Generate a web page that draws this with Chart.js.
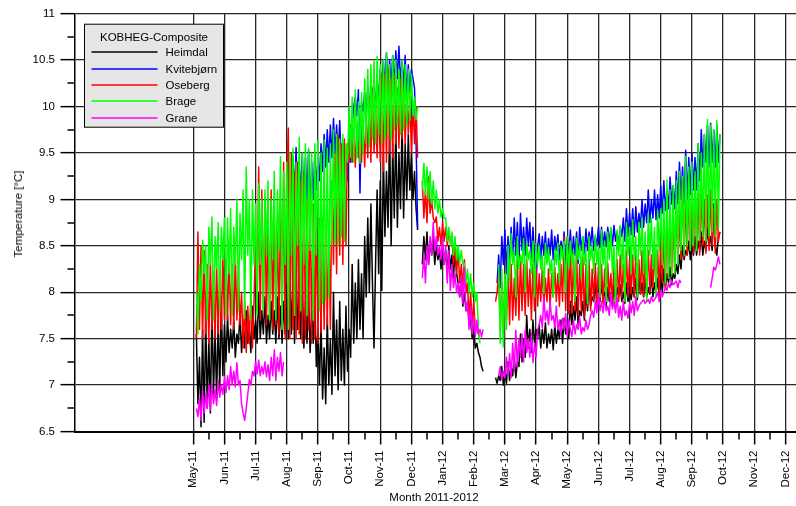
<!DOCTYPE html>
<html>
<head>
<meta charset="utf-8">
<script src="https://cdn.jsdelivr.net/npm/chart.js@4.4.1/dist/chart.umd.min.js"></script>
<style>
  html, body { margin: 0; padding: 0; background: #fff; overflow: hidden; }
  #wrap { position: relative; width: 796px; height: 506px; font-family: "Liberation Sans", Arial, sans-serif; color: #000; }
  #wrap canvas { position: absolute; left: 0; top: 0; }
  .axis-title { position: absolute; font-size: 11.5px; line-height: 14px; white-space: nowrap; }
  #ytitle { left: 18px; top: 214px; transform: translate(-50%, -50%) rotate(-90deg); }
  #xtitle { left: 434px; top: 497px; transform: translate(-50%, -50%); }
</style>
</head>
<body>
<div id="wrap">
  <canvas id="chart" width="796" height="506"></canvas>
  <div id="ytitle" class="axis-title">Temperature [°C]</div>
  <div id="xtitle" class="axis-title">Month 2011-2012</div>
</div>
<script>
// Month axis: 0 = May-11, one unit per month
const monthLabels = ['May-11','Jun-11','Jul-11','Aug-11','Sep-11','Oct-11','Nov-11','Dec-11','Jan-12','Feb-12',
  'Mar-12','Apr-12','May-12','Jun-12','Jul-12','Aug-12','Sep-12','Oct-12','Nov-12','Dec-12'];
const tempTicks = [6.5, 7, 7.5, 8, 8.5, 9, 9.5, 10, 10.5, 11];
const legendTitle = 'KOBHEG-Composite';

// Readings every 0.05 month (one row = one month); each series lists its first reading month
const STEP = 0.05;

const heimdalStart = 0.1;
const heimdal = [
  7.55,6.8,7.3,6.55,7.6,6.6,7.75,6.75,7.5,6.7,7.85,6.9,7.6,6.85,7.7,6.95,7.9,7.1,7.65,7.25,
  7.75,7.35,7.6,7.4,7.7,7.3,7.55,7.45,7.78,7.35,7.65,7.4,7.8,7.45,7.6,7.35,7.85,7.5,7.7,7.45,
  8.0,7.5,7.8,7.55,7.95,7.45,7.75,7.5,7.9,7.55,7.8,7.45,7.95,7.5,7.85,7.45,7.9,7.55,8.1,7.5,
  8.3,7.55,8.1,7.45,8.25,7.6,8.0,7.5,8.1,7.4,7.9,7.45,8.0,7.35,7.8,7.45,7.95,7.2,7.6,7.0,
  7.7,6.85,7.4,6.8,7.75,7.0,7.5,6.9,8.0,7.1,7.7,6.95,7.9,7.05,7.6,7.0,7.85,7.15,7.6,7.3,
  8.3,7.45,8.1,7.5,8.35,7.6,8.2,7.5,8.6,7.95,8.8,8.0,8.95,8.1,7.4,8.3,9.1,8.2,9.2,8.02,
  9.5,8.6,9.3,8.7,9.75,8.5,9.6,8.8,9.8,8.7,9.5,8.9,9.85,8.8,9.6,9.0,9.7,9.1,9.5,9.0,
  9.3,8.9,8.67,null,null,8.3,8.6,8.35,8.65,8.3,8.55,8.4,8.6,8.3,8.5,8.35,8.45,8.25,8.5,8.3,
  8.45,8.2,8.5,8.25,8.4,8.15,8.45,8.2,8.1,7.95,8.15,7.85,8.0,7.8,7.9,7.7,7.7,7.5,7.6,7.4,
  7.45,7.35,7.3,7.2,7.15,null,null,null,null,null,null,null,7.08,7.02,7.1,7.05,7.2,7.0,7.15,7.02,
  7.25,7.05,7.2,7.1,7.3,7.08,7.25,7.2,7.55,7.25,7.5,7.3,7.75,7.4,7.6,7.35,7.7,7.45,7.6,7.5,
  7.65,7.4,7.6,7.45,7.67,7.4,7.55,7.45,7.6,7.38,7.65,7.45,7.6,7.5,7.7,7.45,7.72,7.55,7.65,7.5,
  7.9,7.65,7.85,7.7,7.95,7.65,7.8,7.75,7.9,7.7,8.0,7.8,8.1,7.85,7.95,7.9,8.1,7.85,8.05,7.9,
  8.12,7.9,8.0,7.85,8.05,7.9,7.95,7.85,8.1,7.9,8.05,7.95,8.08,7.9,8.0,7.88,8.1,7.9,8.05,7.92,
  8.05,7.95,8.15,7.92,8.2,7.98,8.1,7.95,8.15,7.95,8.05,7.98,8.2,7.95,8.1,8.0,8.15,7.95,8.2,8.0,
  8.25,8.05,8.2,8.1,8.27,8.08,8.2,8.15,8.3,8.2,8.4,8.25,8.5,8.35,8.45,8.4,8.55,8.35,8.5,8.4,
  8.6,8.4,8.55,8.45,8.65,8.4,8.55,8.45,8.7,8.5,8.6,8.45,8.95,8.5,8.4,8.6,8.65
];

const kvitebjornStart = 3.1;
const kvitebjorn = [
  9.3,8.9,9.45,9.0,9.56,8.95,9.4,9.05,9.5,8.9,9.45,9.0,9.53,8.85,9.4,9.0,9.5,9.1,9.45,9.2,
  9.6,9.3,9.7,9.35,9.75,9.4,9.8,9.45,9.87,9.5,9.8,9.45,9.85,9.4,9.6,9.3,9.55,9.2,9.65,9.4,
  9.8,10.0,10.1,9.9,10.18,9.07,10.05,9.95,10.15,9.9,10.2,9.95,10.25,10.0,10.29,9.95,10.3,10.05,10.4,10.2,
  10.5,10.2,10.58,10.15,10.5,10.25,10.55,10.2,10.6,10.3,10.65,10.25,10.5,10.2,10.55,10.1,10.45,10.15,10.4,10.3,
  10.2,9.6,8.7,null,null,null,null,null,null,null,null,null,null,null,null,null,null,null,null,null,
  null,null,null,null,null,null,null,null,null,null,null,null,null,null,null,null,null,null,null,null,
  null,null,null,null,null,null,null,null,null,null,null,null,null,8.1,8.4,8.05,8.6,8.3,8.67,8.2,
  8.6,8.3,8.7,8.35,8.8,8.4,8.75,8.3,8.85,8.45,8.7,8.4,8.8,8.5,8.75,8.35,8.7,8.4,8.05,8.5,
  8.63,8.35,8.6,8.4,8.65,8.34,8.58,8.4,8.67,8.35,8.6,8.45,8.62,8.35,8.55,8.4,8.65,8.3,8.6,8.4,
  8.67,8.35,8.6,8.4,8.65,8.31,8.7,8.45,8.6,8.4,8.68,8.45,8.65,8.5,8.7,8.45,8.6,8.5,8.7,8.48,
  8.7,8.5,8.65,8.49,8.7,8.55,8.68,8.5,8.72,8.55,8.65,8.5,8.7,8.6,8.8,8.55,8.9,8.6,8.85,8.62,
  8.9,8.6,8.92,8.65,8.85,8.7,9.0,8.7,8.95,8.75,9.1,8.75,9.0,8.8,9.1,8.78,9.05,8.8,9.15,8.85,
  9.2,8.88,9.1,8.9,9.24,8.95,9.15,8.9,9.3,8.95,9.4,9.0,9.35,8.95,9.53,9.0,9.45,9.05,9.5,9.1,
  9.45,9.1,9.6,9.2,9.75,9.35,9.7,9.4,9.8,9.35,9.82,9.4,9.75,9.35,9.8,9.4,9.7
];

const osebergStart = 0.1;
const oseberg = [
  7.5,8.65,7.6,8.5,7.5,8.45,7.55,8.3,7.45,8.35,7.6,8.2,7.5,8.3,7.55,8.25,7.6,8.4,7.7,8.35,
  7.7,8.45,7.65,8.3,7.6,8.4,7.7,8.2,7.65,8.0,7.4,7.9,7.35,7.85,7.45,8.0,7.4,7.9,8.6,7.8,
  9.35,7.7,9.1,7.8,9.0,7.65,8.8,7.7,9.1,7.6,8.9,7.65,8.8,7.55,9.0,7.6,9.4,7.5,9.2,9.77,
  7.5,9.5,7.6,9.3,7.5,9.4,7.55,9.2,7.45,9.3,7.5,9.0,7.6,9.1,7.45,8.95,7.5,8.9,7.45,8.8,
  7.56,8.8,7.6,8.7,7.65,8.75,7.6,9.2,8.3,9.5,8.2,9.7,8.4,9.6,8.3,9.65,8.5,9.6,9.4,9.8,
  9.4,9.75,9.35,9.8,9.45,9.7,9.4,9.85,9.35,9.9,9.45,10.1,9.4,10.2,9.5,10.0,9.45,10.1,9.4,10.35,
  9.3,10.35,9.4,10.4,9.5,10.3,9.45,10.35,9.6,10.2,9.55,10.3,9.65,10.2,9.6,10.15,9.7,10.1,9.5,10.05,
  9.6,10.0,9.45,null,null,9.2,8.8,9.1,8.75,9.24,8.85,9.0,8.8,8.75,8.81,8.55,8.7,8.5,8.75,8.55,
  8.7,8.5,8.65,8.55,8.6,8.3,8.55,8.2,8.45,8.1,8.3,8.05,8.35,8.0,8.1,7.7,8.0,7.65,7.9,7.6,
  7.6,7.55,7.5,null,null,null,null,null,null,null,null,null,7.9,8.0,8.2,7.6,8.1,7.56,8.2,7.7,
  8.24,7.65,8.3,7.7,8.15,7.75,8.35,7.7,8.38,7.8,8.3,7.75,8.35,7.85,8.25,7.7,8.3,7.8,8.27,7.85,
  8.2,7.9,8.27,7.85,8.15,7.9,8.25,7.84,8.2,7.95,8.27,7.9,8.2,7.85,8.3,7.9,8.6,7.8,8.5,7.77,
  8.55,7.77,8.38,7.8,8.45,7.75,8.3,7.8,8.38,7.73,8.3,7.85,8.35,7.8,8.25,7.9,8.31,7.88,8.28,7.9,
  8.3,7.88,8.25,7.9,8.31,7.95,8.2,7.9,8.28,7.92,8.35,7.9,8.4,7.95,8.3,7.92,8.45,7.95,8.35,7.98,
  8.4,7.95,8.45,8.0,8.35,7.98,8.45,7.95,8.4,8.05,8.45,8.0,8.4,8.05,8.5,8.0,8.45,7.99,8.6,8.1,
  8.63,8.05,8.88,8.16,8.7,8.2,8.8,8.2,9.0,8.3,8.85,8.35,9.24,8.38,9.0,8.4,9.1,8.45,9.15,8.42,
  9.2,8.45,9.1,8.4,9.13,8.5,9.0,8.42,9.05,8.45,9.1,8.5,8.9,8.42,9.0,8.55,8.65
];

const brageStart = 0.1;
const brage = [
  8.0,7.55,8.3,7.9,8.56,8.2,8.5,7.7,8.7,8.3,8.81,7.7,8.6,8.25,8.75,7.8,8.7,8.35,8.8,7.75,
  8.8,8.2,8.9,7.75,8.7,8.3,9.0,7.8,8.85,8.35,9.1,7.72,9.35,8.4,9.0,7.7,9.1,8.3,8.95,7.75,
  9.17,8.3,9.0,7.8,9.1,8.4,9.2,7.7,9.0,8.35,9.3,7.7,9.1,8.45,9.46,7.6,9.3,8.3,9.4,7.6,
  9.5,8.4,9.55,7.75,9.4,8.5,9.67,7.8,9.5,8.3,9.6,7.75,9.55,8.45,9.5,7.7,9.6,8.4,9.64,7.8,
  9.5,7.88,9.64,7.9,9.55,7.95,9.6,8.5,9.75,8.55,9.7,8.5,9.65,8.6,9.7,8.55,9.6,9.4,10.0,9.45,
  10.1,9.4,10.18,9.45,10.05,9.39,10.15,9.5,10.3,9.6,10.4,9.57,10.45,9.65,10.5,9.6,10.54,9.7,10.45,9.6,
  10.5,9.65,10.58,9.7,10.45,9.64,10.55,9.75,10.5,9.8,10.4,9.7,10.5,9.75,10.45,9.8,10.4,9.85,10.35,9.9,
  10.1,9.86,10.0,null,null,9.1,9.39,9.05,9.35,9.0,9.3,8.95,9.2,8.9,9.1,8.85,9.0,8.81,8.9,8.8,
  8.8,8.55,8.7,8.5,8.65,8.4,8.6,8.35,8.5,8.31,8.45,8.3,8.31,8.1,8.25,8.0,8.2,7.95,8.1,7.9,
  8.0,7.6,7.45,null,null,null,null,null,null,null,null,null,null,null,8.3,7.45,8.25,7.41,8.2,7.6,
  8.5,8.1,8.63,8.3,8.45,7.95,8.6,8.25,8.4,8.3,8.58,8.0,8.53,8.35,8.45,8.2,8.55,7.95,8.53,8.3,
  8.5,8.25,8.4,7.99,8.53,8.3,8.48,8.2,8.35,7.95,8.45,8.3,8.53,8.1,8.5,8.35,8.55,8.0,8.6,8.25,
  8.55,8.3,8.45,7.9,8.58,8.35,8.5,8.15,8.6,8.3,8.45,7.88,8.6,8.35,8.5,8.2,8.62,8.3,8.5,7.95,
  8.67,8.3,8.55,7.9,8.65,8.35,8.7,8.2,8.5,7.85,8.67,8.4,8.72,8.25,8.6,7.9,8.75,8.4,8.7,8.2,
  8.78,8.35,8.6,7.95,8.75,8.4,8.8,8.2,8.65,7.9,8.85,8.4,8.8,8.25,8.7,7.95,8.88,8.45,8.9,8.3,
  9.0,8.1,9.21,8.15,9.1,8.2,9.15,8.2,9.2,8.3,9.3,8.45,9.25,8.4,9.46,8.5,9.35,8.45,9.4,8.5,
  9.3,8.45,9.6,8.56,9.5,8.6,9.7,8.55,9.86,8.6,9.8,8.65,9.75,8.6,9.85,8.7,9.7
];

const graneStart = 0.1;
const grane = [
  6.75,6.66,6.85,6.62,6.95,6.7,6.9,6.75,7.0,6.73,7.02,6.8,6.95,6.78,7.05,6.87,7.0,6.9,7.09,6.92,
  7.1,6.95,7.2,7.0,7.15,6.98,7.24,7.0,7.05,6.8,6.7,6.62,6.75,6.9,7.06,7.0,7.15,7.1,7.25,7.12,
  7.27,7.1,7.2,7.12,7.25,7.09,7.22,7.05,7.3,7.1,7.38,7.05,7.3,7.15,7.35,7.1,7.25,null,null,null,
  null,null,null,null,null,null,null,null,null,null,null,null,null,null,null,null,null,null,null,null,
  null,null,null,null,null,null,null,null,null,null,null,null,null,null,null,null,null,null,null,null,
  null,null,null,null,null,null,null,null,null,null,null,null,null,null,null,null,null,null,null,null,
  null,null,null,null,null,null,null,null,null,null,null,null,null,null,null,null,null,null,null,null,
  null,null,null,null,null,8.15,8.4,8.1,8.5,8.3,8.6,8.4,8.75,8.45,8.6,8.4,8.5,8.35,8.6,8.3,
  8.5,8.1,8.45,8.02,8.3,8.05,8.2,8.0,8.1,7.95,8.15,7.88,8.27,7.8,7.9,7.6,7.85,7.55,7.75,7.52,
  7.7,7.55,7.6,7.52,7.6,null,null,null,null,null,null,null,null,null,7.1,7.2,7.06,7.15,7.08,7.3,
  7.1,7.34,7.08,7.45,7.15,7.59,7.2,7.5,7.3,7.55,7.25,7.59,7.35,7.5,7.3,7.55,7.24,7.45,7.3,7.6,
  7.65,7.75,7.62,7.95,7.7,7.8,7.65,7.9,7.7,7.75,7.62,7.85,7.6,7.7,7.55,7.72,7.6,7.77,7.52,7.7,
  7.6,7.52,7.7,7.55,7.65,7.6,7.73,7.55,7.62,7.58,7.7,7.6,7.65,7.75,7.8,7.73,7.9,7.78,7.99,7.8,
  7.9,7.78,7.95,7.8,7.85,7.75,7.99,7.82,7.9,7.78,7.95,7.73,7.85,7.7,7.9,7.75,7.8,7.72,7.88,7.78,
  7.9,7.75,7.95,7.8,7.85,7.88,7.9,7.92,7.88,7.9,7.92,7.88,7.95,7.9,7.92,7.95,8.0,7.9,8.02,7.95,
  8.0,8.05,8.02,8.1,8.05,8.13,8.08,8.1,8.12,8.05,8.13,8.1,null,null,null,null,null,null,null,null,
  null,null,null,null,null,null,null,null,null,null,8.05,8.15,8.27,8.24,8.3,8.38,8.3
];

const seriesNames = ['Heimdal', 'Kvitebjørn', 'Oseberg', 'Brage', 'Grane'];
const seriesColors = ['#000000', '#0000ff', '#ff0000', '#00ff00', '#ff00ff'];
const seriesValues = [heimdal, kvitebjorn, oseberg, brage, grane];
const seriesStarts = [heimdalStart, kvitebjornStart, osebergStart, brageStart, graneStart];

function toPoints(values, start) {
  return values.map((v, i) => ({ x: +(start + i * STEP).toFixed(3), y: v }));
}

// later series are painted over earlier ones
const datasets = seriesNames.map((name, k) => ({
  label: name,
  data: toPoints(seriesValues[k], seriesStarts[k]),
  borderColor: seriesColors[k],
  backgroundColor: seriesColors[k],
  borderWidth: 1.5,
  borderJoinStyle: 'round',
  pointRadius: 0,
  tension: 0,
  spanGaps: false,
  order: seriesNames.length - k
}));

// half-month and quarter-degree tick marks
const minorTicks = {
  id: 'minorTicks',
  afterDraw(chart) {
    const { ctx, chartArea, scales: { x, y } } = chart;
    ctx.save();
    ctx.strokeStyle = '#000';
    ctx.lineWidth = 1.5;
    ctx.beginPath();
    for (let i = 0; i < monthLabels.length - 1; i++) {
      const px = Math.round(x.getPixelForValue(i + 0.5));
      ctx.moveTo(px, chartArea.bottom);
      ctx.lineTo(px, chartArea.bottom + 8);
    }
    for (let k = 0; k < tempTicks.length - 1; k++) {
      const py = Math.round(y.getPixelForValue((tempTicks[k] + tempTicks[k + 1]) / 2));
      ctx.moveTo(chartArea.left - 7, py);
      ctx.lineTo(chartArea.left, py);
    }
    ctx.stroke();
    ctx.restore();
  }
};

// framed legend panel in the upper left corner of the plot
const legendPanel = {
  id: 'legendPanel',
  afterDraw(chart) {
    const { ctx, chartArea } = chart;
    const left = chartArea.left + 10, top = chartArea.top + 10.5;
    const w = 139, h = 103, rowH = 16.4;
    ctx.save();
    ctx.fillStyle = '#e6e6e6';
    ctx.fillRect(left, top, w, h);
    ctx.strokeStyle = '#000';
    ctx.lineWidth = 1;
    ctx.strokeRect(left, top, w, h);
    ctx.font = '11.5px "Liberation Sans", Arial, sans-serif';
    ctx.fillStyle = '#000';
    ctx.textBaseline = 'middle';
    ctx.textAlign = 'center';
    ctx.fillText(legendTitle, left + w / 2, top + 14);
    ctx.textAlign = 'left';
    seriesNames.forEach((name, k) => {
      const ry = Math.round(top + 28 + k * rowH);
      ctx.strokeStyle = seriesColors[k];
      ctx.lineWidth = 1.6;
      ctx.beginPath();
      ctx.moveTo(left + 7, ry);
      ctx.lineTo(left + 73, ry);
      ctx.stroke();
      ctx.fillStyle = '#000';
      ctx.fillText(name, left + 81, ry + 0.5);
    });
    ctx.restore();
  }
};

Chart.defaults.font.family = '"Liberation Sans", Arial, sans-serif';
Chart.defaults.font.size = 11.5;
Chart.defaults.color = '#000';

new Chart(document.getElementById('chart'), {
  type: 'line',
  data: { datasets },
  options: {
    responsive: false,
    animation: false,
    devicePixelRatio: 1,
    layout: { padding: { top: 13.7, left: 0, right: 0, bottom: 0 } },
    plugins: { legend: { display: false }, tooltip: { enabled: false } },
    scales: {
      x: {
        type: 'linear',
        z: 1,
        min: -3.81,
        max: 19.34,
        afterBuildTicks: s => { s.ticks = monthLabels.map((_, i) => ({ value: i })); },
        ticks: {
          autoSkip: false,
          maxRotation: 90,
          minRotation: 90,
          padding: 6,
          callback: v => monthLabels[v] ?? ''
        },
        grid: { color: '#262626', lineWidth: 1.3, tickLength: 13, tickColor: '#000', tickWidth: 1.5 },
        border: { color: '#000', width: 2 },
        afterFit: s => { s.height = 74.5; s.paddingLeft = 0; s.paddingRight = 0; }
      },
      y: {
        z: 1,
        min: 6.5,
        max: 11,
        afterBuildTicks: s => { s.ticks = tempTicks.map(v => ({ value: v })); },
        ticks: { padding: 5.5, callback: v => String(v) },
        grid: { color: '#262626', lineWidth: 1.3, tickLength: 14, tickColor: '#000', tickWidth: 1.5 },
        border: { color: '#000', width: 1.5 },
        afterFit: s => { s.width = 74.5; s.paddingTop = 0; s.paddingBottom = 0; }
      }
    }
  },
  plugins: [minorTicks, legendPanel]
});
</script>
</body>
</html>
